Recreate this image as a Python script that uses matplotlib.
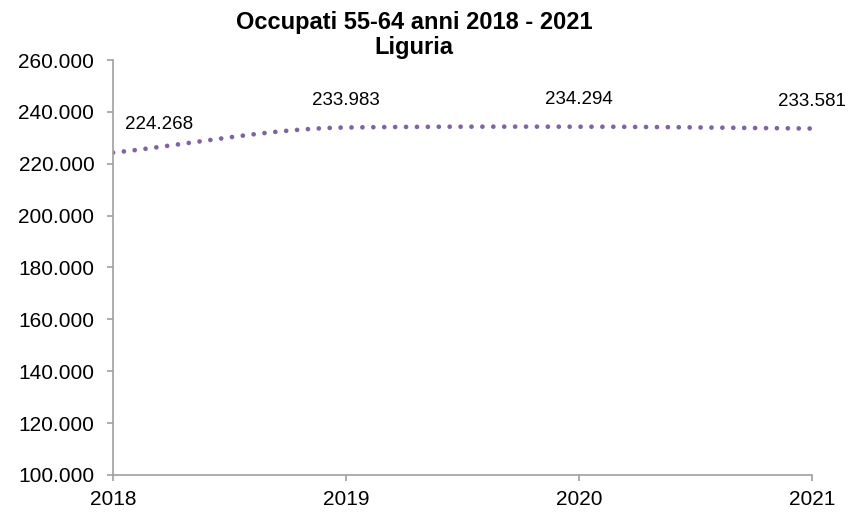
import matplotlib
matplotlib.use("Agg")
import matplotlib.pyplot as plt
from matplotlib.ticker import FuncFormatter
import numpy as np

plt.rcParams['font.family'] = ['Liberation Sans', 'DejaVu Sans']

# data
years = [2018, 2019, 2020, 2021]
occupati = [224268, 233983, 234294, 233581]
labels = ["224.268", "233.983", "234.294", "233.581"]
y_ticks = [100000, 120000, 140000, 160000, 180000, 200000, 220000, 240000, 260000]

line_color = "#8064A2"
axis_color = "#A0A0A0"


def smooth(xs, ys, n=80, tension=0.12):
  # hermite curve through the points, close to excel "smoothed line"
  xs = np.asarray(xs, float)
  ys = np.asarray(ys, float)
  # tangents: secant at the ends, damped central difference inside
  m = np.zeros(len(ys))
  m[0] = (ys[1] - ys[0]) / (xs[1] - xs[0])
  m[-1] = (ys[-1] - ys[-2]) / (xs[-1] - xs[-2])
  for i in range(1, len(ys) - 1):
    m[i] = tension * (ys[i + 1] - ys[i - 1]) / ((xs[i + 1] - xs[i - 1]) / 2)
  out_x, out_y = [], []
  for i in range(len(xs) - 1):
    h = xs[i + 1] - xs[i]
    t = np.linspace(0, 1, n)
    h00 = 2 * t**3 - 3 * t**2 + 1
    h10 = t**3 - 2 * t**2 + t
    h01 = -2 * t**3 + 3 * t**2
    h11 = t**3 - t**2
    out_x.extend(xs[i] + t * h)
    out_y.extend(h00 * ys[i] + h10 * h * m[i] + h01 * ys[i + 1] + h11 * h * m[i + 1])
  return np.array(out_x), np.array(out_y)


fig = plt.figure(figsize=(8.49, 5.12), dpi=100)
ax = fig.add_axes([0.1331, 0.0723, 0.8233, 0.8105])

sx, sy = smooth(years, occupati)
ax.plot(sx, sy, color=line_color, linewidth=3.4, linestyle=(0, (0.01, 2.3)),
        dash_capstyle='round', solid_capstyle='round')

# data labels (offsets in points)
offsets = [(33, 20), (0, 19.5), (0, 19.5), (0, 19.5)]
for x, y, lab, off in zip(years, occupati, labels, offsets):
  ax.annotate(lab, (x, y), textcoords="offset points", xytext=off,
              ha='center', va='center', fontsize=13.5)

ax.set_xlim(2018, 2021)
ax.set_ylim(100000, 260000)
ax.set_xticks(years)
ax.set_xticklabels([str(y) for y in years])
ax.set_yticks(y_ticks)
ax.yaxis.set_major_formatter(FuncFormatter(lambda v, p: f"{int(v):,}".replace(",", ".")))

for s in ['top', 'right']:
  ax.spines[s].set_visible(False)
for s in ['left', 'bottom']:
  ax.spines[s].set_color(axis_color)
  ax.spines[s].set_linewidth(1.2)
ax.tick_params(axis='both', colors=axis_color, length=4.5, width=1.2, labelsize=15, labelcolor='black')
ax.tick_params(axis='y', pad=9)
ax.tick_params(axis='x', pad=6)

fig.text(0.488, 0.957, "Occupati 55-64 anni 2018 - 2021", ha='center', va='center',
         fontsize=17, fontweight='bold')
fig.text(0.488, 0.908, "Liguria", ha='center', va='center', fontsize=17, fontweight='bold')

fig.savefig("out.png", dpi=100)
